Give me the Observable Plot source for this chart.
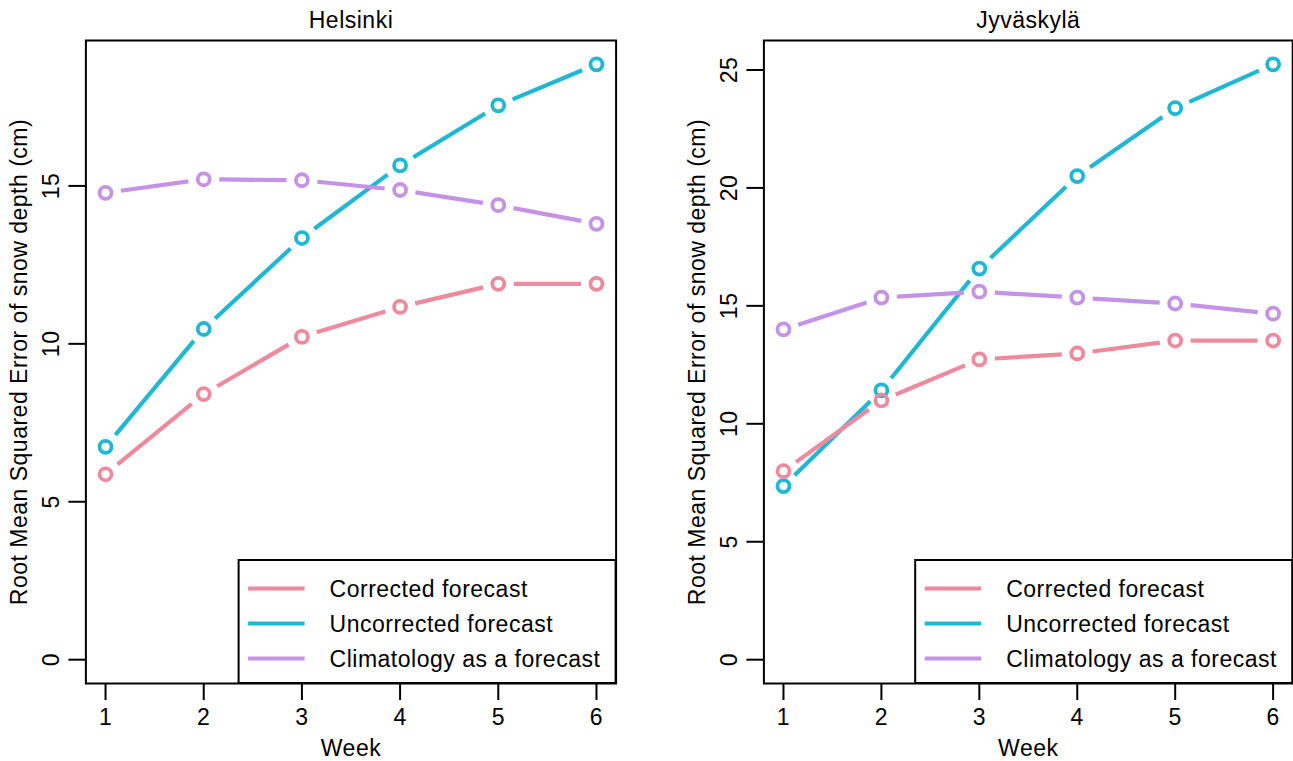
<!DOCTYPE html>
<html>
<head>
<meta charset="utf-8">
<script src="https://cdn.jsdelivr.net/npm/d3@7"></script>
<script src="https://cdn.jsdelivr.net/npm/@observablehq/plot@0.6"></script>
<style>
  html, body { margin: 0; padding: 0; background: #fff; overflow: hidden; }
  #wrap { display: flex; flex-direction: row; width: 1293px; height: 761px; }
  #wrap svg { display: block; }
</style>
</head>
<body>
<div id="wrap"></div>
<script>
// ---- data ----
const weeks = [1, 2, 3, 4, 5, 6];
const seriesNames = ["Corrected forecast", "Uncorrected forecast", "Climatology as a forecast"];
const seriesColors = ["#EE8A9D", "#20B7D3", "#C493E6"];
const drawOrder = ["Uncorrected forecast", "Corrected forecast", "Climatology as a forecast"];

const helsinkiCorrected   = [5.87, 8.41, 10.22, 11.17, 11.90, 11.90];
const helsinkiUncorrected = [6.74, 10.47, 13.35, 15.65, 17.55, 18.85];
const helsinkiClimatology = [14.78, 15.21, 15.18, 14.87, 14.39, 13.80];

const jyvaskylaCorrected   = [7.99, 10.99, 12.73, 12.98, 13.53, 13.53];
const jyvaskylaUncorrected = [7.36, 11.42, 16.58, 20.50, 23.38, 25.24];
const jyvaskylaClimatology = [14.00, 15.35, 15.60, 15.35, 15.10, 14.67];

const helsinkiTicks = [0, 5, 10, 15];
const jyvaskylaTicks = [0, 5, 10, 15, 20, 25];
const weekTicks = [1, 2, 3, 4, 5, 6];

const xLabel = "Week";
const yLabel = "Root Mean Squared Error of snow depth (cm)";

// ---- helpers ----
const FONT = "'Liberation Sans', Arial, Helvetica, sans-serif";
const GAP = 15.5;

function shorten(index, scales, values, dimensions, context, next) {
  const {x1, y1, x2, y2} = values;
  const X1 = Array.from(x1), Y1 = Array.from(y1), X2 = Array.from(x2), Y2 = Array.from(y2);
  for (const i of index) {
    const dx = x2[i] - x1[i], dy = y2[i] - y1[i];
    const L = Math.hypot(dx, dy);
    const g = Math.max(0, Math.min(GAP, L / 2 - 1));
    X1[i] = x1[i] + dx / L * g; Y1[i] = y1[i] + dy / L * g;
    X2[i] = x2[i] - dx / L * g; Y2[i] = y2[i] - dy / L * g;
  }
  return next(index, scales, {...values, x1: X1, y1: Y1, x2: X2, y2: Y2}, dimensions, context);
}

function panel({title, corrected, uncorrected, climatology, yTicks, width, marginLeft, marginRight}) {
  const byName = {
    "Corrected forecast": corrected,
    "Uncorrected forecast": uncorrected,
    "Climatology as a forecast": climatology
  };
  const rows = drawOrder.flatMap(s => weeks.map((w, i) => ({series: s, week: w, value: byName[s][i]})));
  const segs = drawOrder.flatMap(s => weeks.slice(0, -1).map((w, i) => ({
    series: s, x1: w, y1: byName[s][i], x2: weeks[i + 1], y2: byName[s][i + 1]
  })));
  const ymax = d3.max(rows, d => d.value);
  const ymin = 0;
  const yr = ymax - ymin;
  const xr = d3.max(weeks) - d3.min(weeks);
  const height = 761, marginTop = 40, marginBottom = 78;

  const svg = Plot.plot({
    width, height, marginLeft, marginRight, marginTop, marginBottom,
    style: {fontFamily: FONT, fontSize: "23px", color: "black", background: "white", letterSpacing: "0.5px"},
    x: {type: "linear", domain: [d3.min(weeks) - 0.04 * xr, d3.max(weeks) + 0.04 * xr], insetLeft: 0, insetRight: 0},
    y: {type: "linear", domain: [ymin - 0.04 * yr, ymax + 0.04 * yr], insetTop: 0, insetBottom: 0},
    color: {domain: seriesNames, range: seriesColors},
    marks: [
      Plot.link(segs, {x1: "x1", y1: "y1", x2: "x2", y2: "y2", stroke: "series", strokeWidth: 4.2, strokeLinecap: "butt", render: shorten}),
      Plot.dot(rows, {x: "week", y: "value", stroke: "series", r: 6, strokeWidth: 3.8, fill: "none"}),
      Plot.axisX(weekTicks, {tickSize: 17, tickPadding: 8, strokeWidth: 2, fontSize: 23, label: null}),
      Plot.text([xLabel], {frameAnchor: "bottom", dy: 65, fontSize: 23, lineAnchor: "middle"}),
      Plot.axisY(yTicks, {tickSize: 17, strokeWidth: 2, tickFormat: () => "", label: null}),
      Plot.text(yTicks, {y: d => d, text: d => String(d), frameAnchor: "left", dx: -34, rotate: -90, fontSize: 23, textAnchor: "middle", lineAnchor: "middle"}),
      Plot.text([yLabel], {frameAnchor: "left", dx: -66, rotate: -90, fontSize: 23, textAnchor: "middle", lineAnchor: "middle"}),
      Plot.text([title], {frameAnchor: "top", dy: -20, fontSize: 23, lineAnchor: "middle"}),
      Plot.frame({stroke: "black", strokeWidth: 2})
    ]
  });

  // legend (bottom-right inside the plot box)
  const right = width - marginRight, bottom = height - marginBottom;
  const lw = 377, lh = 123;
  const g = d3.select(svg).append("g")
    .attr("font-family", FONT).attr("font-size", 23).attr("letter-spacing", "0.5px")
    .attr("text-anchor", "start").style("text-anchor", "start");
  g.append("rect").attr("x", right - lw).attr("y", bottom - lh).attr("width", lw).attr("height", lh)
    .attr("fill", "white").attr("stroke", "black").attr("stroke-width", 2);
  const rowY = [28.5, 63.5, 98.5];
  seriesNames.forEach((name, i) => {
    const y = bottom - lh + rowY[i];
    g.append("line").attr("x1", right - lw + 9.5).attr("x2", right - lw + 66)
      .attr("y1", y).attr("y2", y).attr("stroke", seriesColors[i]).attr("stroke-width", 4.2);
    g.append("text").attr("x", right - lw + 91).attr("y", y).attr("dy", "0.35em")
      .attr("text-anchor", "start").style("text-anchor", "start")
      .attr("fill", "black").text(name);
  });
  return svg;
}

const wrap = document.getElementById("wrap");
wrap.appendChild(panel({
  title: "Helsinki",
  corrected: helsinkiCorrected, uncorrected: helsinkiUncorrected, climatology: helsinkiClimatology,
  yTicks: helsinkiTicks, width: 646, marginLeft: 85.4, marginRight: 30.4
}));
wrap.appendChild(panel({
  title: "Jyväskylä",
  corrected: jyvaskylaCorrected, uncorrected: jyvaskylaUncorrected, climatology: jyvaskylaClimatology,
  yTicks: jyvaskylaTicks, width: 647, marginLeft: 117.4, marginRight: 0.8
}));
</script>
</body>
</html>
